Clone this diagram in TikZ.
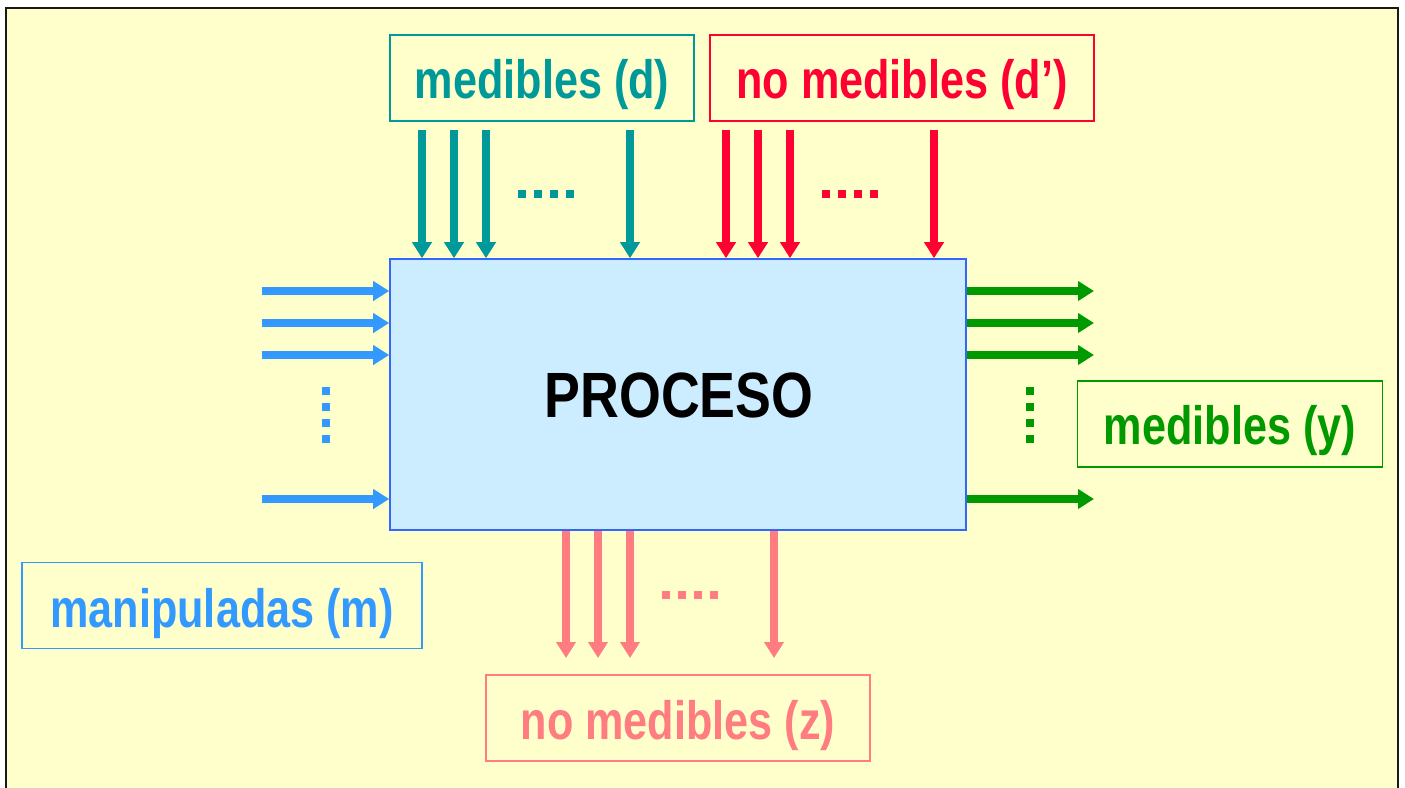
\documentclass[tikz,border=0pt]{standalone}
\usepackage{fontspec}
\setmainfont{Liberation Sans}[FakeStretch=0.8]
\newfontfamily\procfont{Liberation Sans}[FakeStretch=0.84]
\usetikzlibrary{arrows.meta}

\definecolor{bgyellow}{HTML}{FFFFCC}
\definecolor{procfill}{HTML}{CCECFF}
\definecolor{procline}{HTML}{3366FF}
\definecolor{cteal}{HTML}{009999}
\definecolor{cred}{HTML}{FF0033}
\definecolor{cblue}{HTML}{3399FF}
\definecolor{cgreen}{HTML}{009900}
\definecolor{cpink}{HTML}{FF7C80}

\tikzset{
  flow/.style={line width=7.5pt, -{Triangle[width=19pt,length=16pt]}},
  labelbox/.style={draw, line width=1.6pt, fill=none},
  labeltext/.style={anchor=base, inner sep=0pt,
    font=\fontsize{54}{60}\selectfont\bfseries},
  dot/.style={inner sep=0pt, minimum size=7.5pt, fill},
}

\begin{document}
\begin{tikzpicture}[x=1pt,y=-1pt]
\useasboundingbox (0,0) rectangle (1405,787);
\clip (0,0) rectangle (1405,787);

% page frame
\fill[white] (0,0) rectangle (1405,787);
\draw[line width=2.5pt, fill=bgyellow, draw=black!90] (6,8) rectangle (1398,800);

% the process block
\node[draw=procline, fill=procfill, line width=1.6pt, minimum width=576pt,
      minimum height=271pt, inner sep=0pt] (proc) at (678,394.5) {};
\node[anchor=base, inner sep=0pt, font=\procfont\fontsize{64}{70}\selectfont\bfseries]
      (proctext) at (679,417) {PROCESO};

% label boxes
\node[labelbox, draw=cteal, minimum width=304pt, minimum height=86pt] (bd) at (542,78) {};
\node[labeltext, text=cteal] (td) at (542,98) {medibles (d)};

\node[labelbox, draw=cred, minimum width=384pt, minimum height=86pt] (bdp) at (902,78) {};
\node[labeltext, text=cred] (tdp) at (902,98) {no medibles (d’)};

\node[labelbox, draw=cgreen, minimum width=305pt, minimum height=86pt] (by) at (1230,424) {};
\node[labeltext, text=cgreen] (ty) at (1230,444) {medibles (y)};

\node[labelbox, draw=cblue, minimum width=400pt, minimum height=86pt] (bm) at (222,605.5) {};
\node[labeltext, text=cblue] (tm) at (222,627) {manipuladas (m)};

\node[labelbox, draw=cpink, minimum width=384pt, minimum height=86pt] (bz) at (678,718) {};
\node[labeltext, text=cpink] (tz) at (678,739) {no medibles (z)};

% measured disturbances (d)
\foreach \x [count=\i] in {422,454,486,630} {
  \coordinate (d\i) at (\x,130);
  \draw[flow, cteal] (d\i) -- (d\i |- proc.north);
}
\foreach \x [count=\i] in {522,538,554,570}
  \node[dot, fill=cteal] (dd\i) at (\x,194) {};

% unmeasured disturbances (d')
\foreach \x [count=\i] in {726,758,790,934} {
  \coordinate (e\i) at (\x,130);
  \draw[flow, cred] (e\i) -- (e\i |- proc.north);
}
\foreach \x [count=\i] in {826,842,858,874}
  \node[dot, fill=cred] (ed\i) at (\x,194) {};

% manipulated inputs (m)
\foreach \y [count=\i] in {291,323,355,499} {
  \coordinate (m\i) at (262,\y);
  \draw[flow, cblue] (m\i) -- (m\i -| proc.west);
}
\foreach \y [count=\i] in {391,407,423,439}
  \node[dot, fill=cblue] (md\i) at (326,\y) {};

% measured outputs (y)
\foreach \y [count=\i] in {291,323,355,499} {
  \coordinate (y\i) at (1094,\y);
  \draw[flow, cgreen] (y\i -| proc.east) -- (y\i);
}
\foreach \y [count=\i] in {391,407,423,439}
  \node[dot, fill=cgreen] (yd\i) at (1030,\y) {};

% unmeasured outputs (z)
\foreach \x [count=\i] in {566,598,630,774} {
  \coordinate (z\i) at (\x,658);
  \draw[flow, cpink] (z\i |- proc.south) -- (z\i);
}
\foreach \x [count=\i] in {666,682,698,714}
  \node[dot, fill=cpink] (zd\i) at (\x,595) {};
\end{tikzpicture}
\end{document}
